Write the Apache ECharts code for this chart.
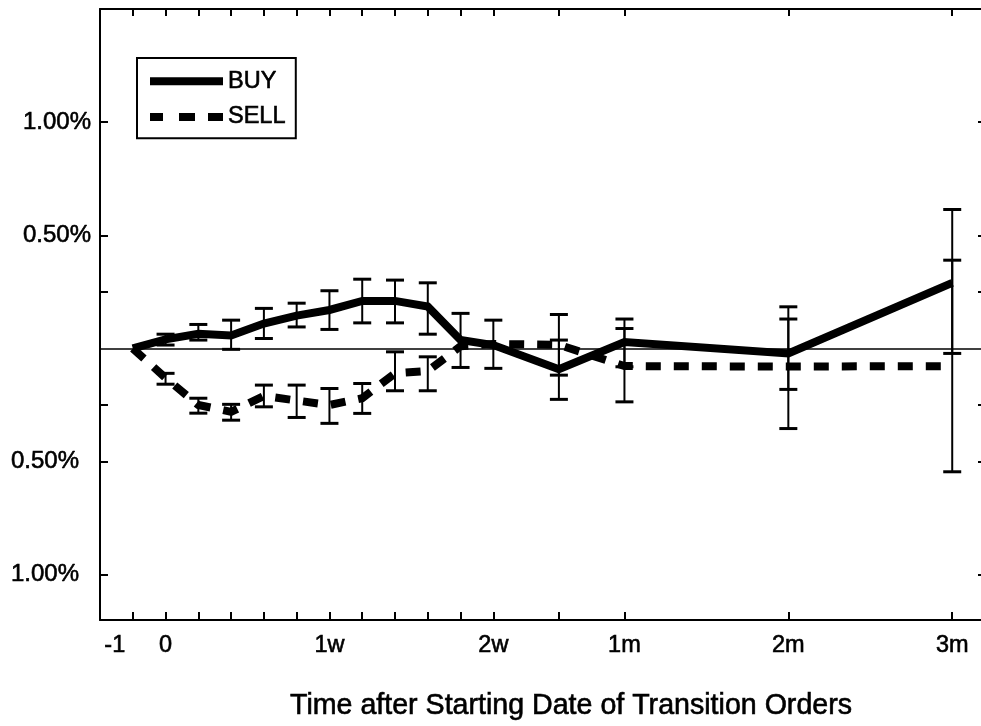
<!DOCTYPE html>
<html><head><meta charset="utf-8">
<script src="https://cdn.jsdelivr.net/npm/echarts@6/dist/echarts.min.js"></script>
<style>html,body{margin:0;padding:0;background:#fff}#c{width:981px;height:726px}</style>
</head><body><div id="c"></div>
<script>
// x positions (trading-day index; -1 day = 0)
const timeIndex = [0,1,2,3,4,5,6,7,8,9,10,11,13,15,20,25];
const buyValues = [0,0.04,0.065,0.057,0.11,0.145,0.17,0.21,0.21,0.185,0.037,0.015,-0.092,0.028,-0.022,0.29];
const buyLow    = [null,0.015,0.037,-0.004,0.044,0.095,0.084,0.113,0.113,0.063,-0.084,-0.088,-0.225,-0.081,-0.181,-0.022];
const buyHigh   = [null,0.063,0.106,0.125,0.177,0.2,0.255,0.306,0.302,0.29,0.155,0.125,0.037,0.13,0.13,0.614];
const sellValues = [0,-0.13,-0.25,-0.28,-0.21,-0.23,-0.25,-0.22,-0.11,-0.1,0.01,0.02,0.016,-0.078,-0.08,-0.078];
const sellLow    = [null,-0.158,-0.286,-0.317,-0.258,-0.305,-0.331,-0.287,-0.187,-0.187,null,null,-0.118,-0.236,-0.354,-0.545];
const sellHigh   = [null,-0.11,-0.22,-0.247,-0.162,-0.162,-0.177,-0.155,-0.015,-0.037,null,null,0.15,0.088,0.184,0.39];
const xTickPositions = [0,1,2,3,4,5,6,7,8,9,10,11,13,15,20,25];
const xLabelPositions = [0,1,6,11,15,20,25];
const xTickLabels = ['-1','0','1w','2w','1m','2m','3m'];
const yTickValues = [1,0.5,0.25,-0.25,-0.5,-1];
const yLabelValues = [1,0.5,-0.5,-1];
const yTickLabels = ['1.00%','0.50%','0.50%','1.00%'];
const seriesNames = ['BUY','SELL'];
const xTitle = 'Time after Starting Date of Transition Orders';

const FONT = "'Liberation Sans', Arial, Helvetica, sans-serif";
const INK = '#000';
const THICK = {textBorderColor:INK, textBorderWidth:0.6};

function pairs(vals){ return timeIndex.map((x,i)=>[x, vals[i]]); }
function errData(lo, hi){
  const out = [];
  timeIndex.forEach((x,i)=>{ if(lo[i]!=null && hi[i]!=null) out.push([x, lo[i], hi[i]]); });
  return out;
}
function renderErr(params, api){
  const x = api.value(0), lo = api.value(1), hi = api.value(2);
  const a = api.coord([x, lo]), b = api.coord([x, hi]);
  const hw = 9;
  const s1 = {stroke: INK, lineWidth: 2};
  const s2 = {stroke: INK, lineWidth: 3};
  return {type:'group', children:[
    {type:'line', shape:{x1:a[0],y1:a[1],x2:b[0],y2:b[1]}, style:s1},
    {type:'line', shape:{x1:a[0]-hw,y1:a[1],x2:a[0]+hw,y2:a[1]}, style:s2},
    {type:'line', shape:{x1:b[0]-hw,y1:b[1],x2:b[0]+hw,y2:b[1]}, style:s2}
  ]};
}

const axisLineStyle = {show:true, onZero:false, lineStyle:{color:INK, width:2}};
const chart = echarts.init(document.getElementById('c'), null, {renderer:'canvas'});
chart.setOption({
  animation:false,
  backgroundColor:'#fff',
  title:{text:xTitle, left:290, top:692, padding:0,
    textStyle:Object.assign({fontSize:28.6, fontWeight:'normal', color:INK, fontFamily:FONT}, THICK)},
  grid:{left:100, right:-4, top:9, bottom:106, containLabel:false, outerBoundsMode:'none'},
  legend:{orient:'vertical', left:137, top:58, padding:[11,10,9,13], itemWidth:73, itemHeight:8, itemGap:11,
    borderColor:INK, borderWidth:2, backgroundColor:'#fff', selectedMode:false,
    textStyle:Object.assign({fontSize:23.5, color:INK, fontFamily:FONT}, THICK),
    data:[
      {name:seriesNames[0], icon:'path://M0 0H73V8H0Z'},
      {name:seriesNames[1], icon:'path://M0 0H13V8H0Z M29 0H45V8H29Z M58 0H73V8H58Z'}
    ]},
  xAxis:[
    {type:'value', position:'bottom', min:-1, max:26,
      axisLine:axisLineStyle,
      axisTick:{show:true, inside:true, length:8, customValues:xTickPositions, lineStyle:{color:INK, width:2}},
      axisLabel:Object.assign({show:true, customValues:xLabelPositions, margin:14, color:INK, fontSize:23.5, fontFamily:FONT,
        formatter:function(v){
          const i = xLabelPositions.indexOf(v);
          const t = i>=0 ? xTickLabels[i] : '';
          return i===0 ? '{s|'+t+'}' : t;
        },
        rich:{s:Object.assign({fontSize:23.5, fontFamily:FONT, color:INK, padding:[0,36,0,0]}, THICK)}}, THICK),
      splitLine:{show:false}},
    {type:'value', position:'top', min:-1, max:26,
      axisLine:axisLineStyle,
      axisTick:{show:true, inside:true, length:7, customValues:xTickPositions, lineStyle:{color:INK, width:2}},
      axisLabel:{show:false}, splitLine:{show:false}}
  ],
  yAxis:[
    {type:'value', position:'left', min:-1.2, max:1.5,
      axisLine:axisLineStyle,
      axisTick:{show:true, inside:true, length:8, customValues:yTickValues, lineStyle:{color:INK, width:2}},
      axisLabel:Object.assign({show:true, customValues:yLabelValues, margin:9, color:INK, fontSize:24, fontFamily:FONT,
        formatter:function(v){
          const i = yLabelValues.indexOf(v);
          const t = i>=0 ? yTickLabels[i] : '';
          return v<0 ? '{n|'+t+'}' : t;
        },
        rich:{n:Object.assign({fontSize:24, fontFamily:FONT, color:INK, padding:[0,12,0,0]}, THICK)}}, THICK),
      splitLine:{show:false}},
    {type:'value', position:'right', min:-1.2, max:1.5,
      axisLine:axisLineStyle,
      axisTick:{show:true, inside:true, length:7, customValues:yTickValues, lineStyle:{color:INK, width:2}},
      axisLabel:{show:false}, splitLine:{show:false}}
  ],
  series:[
    {name:seriesNames[0], type:'line', data:pairs(buyValues), symbol:'none', color:INK, z:3,
      lineStyle:{color:INK, width:8, join:'miter', cap:'butt'},
      markLine:{silent:true, symbol:['none','none'], label:{show:false},
        lineStyle:{color:INK, width:1.5, type:'solid'}, data:[{yAxis:0}]}},
    {name:seriesNames[1], type:'line', data:pairs(sellValues), symbol:'none', color:INK, z:3,
      lineStyle:{color:INK, width:8, type:[15,13], join:'miter', cap:'butt'}},
    {name:'BUY error', type:'custom', renderItem:renderErr, data:errData(buyLow, buyHigh),
      encode:{x:0, y:[1,2]}, z:4, silent:true},
    {name:'SELL error', type:'custom', renderItem:renderErr, data:errData(sellLow, sellHigh),
      encode:{x:0, y:[1,2]}, z:4, silent:true}
  ]
});
</script></body></html>
